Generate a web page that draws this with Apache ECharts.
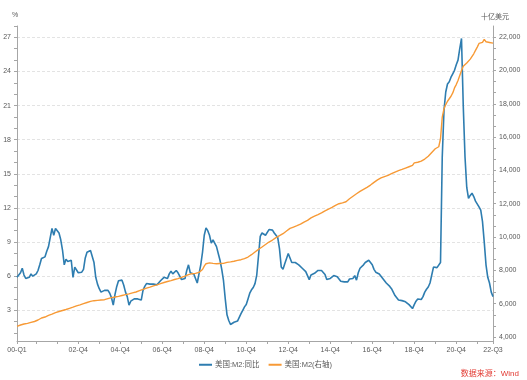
<!DOCTYPE html>
<html><head><meta charset="utf-8">
<script src="https://cdn.jsdelivr.net/npm/echarts@6/dist/echarts.min.js"></script>
<style>html,body{margin:0;padding:0;background:#fff}#c{width:527px;height:380px}</style>
</head><body><div id="c"></div>
<script>
// Monthly observations, 2000-01 .. 2022-09
const startYear = 2000, endYear = 2022, endMonth = 9;
const tickLabels = ["00-Q1","02-Q4","04-Q4","06-Q4","08-Q4","10-Q4","12-Q4","14-Q4","16-Q4","18-Q4","20-Q4","22-Q3"];
const leftTickLabels = [3,6,9,12,15,18,21,24,27];
const rightTickLabels = [4000,6000,8000,10000,12000,14000,16000,18000,20000,22000];
const seriesNames = ["美国:M2:同比", "美国:M2(右轴)"];

// 美国:M2:同比 (%)
const m2Yoy = [
 5.9,6.0,6.3,6.7,6.1,5.8,5.7,5.9,6.2,6.0,5.9,6.2,
 6.5,7.0,7.55,7.6,7.7,8.2,8.6,8.7,10.2,9.6,10.2,10.3,
 9.8,9.2,8.3,7.0,7.5,7.3,7.4,7.4,5.9,6.8,6.8,6.3,
 6.3,6.35,6.6,7.6,8.1,8.2,8.25,8.25,7.2,5.9,5.3,4.9,
 4.6,4.6,4.75,4.75,4.75,4.5,4.1,3.45,4.4,5.1,5.6,5.65,
 5.65,5.2,4.6,4.2,3.45,3.8,3.95,4.0,4.0,4.0,4.0,3.9,
 4.75,5.1,5.35,5.4,5.3,5.25,5.3,5.3,5.25,5.4,5.6,5.75,
 5.9,5.85,5.8,6.2,6.45,6.2,6.3,6.5,6.3,6.0,5.7,5.7,
 5.8,6.5,7.0,6.3,6.2,6.2,5.8,5.4,6.2,7.0,8.1,9.6,
 10.25,10.0,9.6,8.9,9.2,9.1,8.6,8.0,7.4,6.6,5.6,4.0,
 2.6,2.1,1.75,1.85,1.95,2.0,2.05,2.1,2.7,3.0,3.3,3.5,
 4.0,4.5,4.8,5.0,5.35,6.1,7.8,9.5,9.8,9.7,9.6,9.75,
 10.1,10.2,10.05,9.8,9.7,9.4,8.4,6.8,6.6,7.1,7.2,8.0,
 7.6,7.2,7.1,7.2,7.1,7.0,6.9,6.7,6.6,6.4,6.5,5.7,
 6.1,6.25,6.25,6.3,6.5,6.5,6.5,6.4,6.15,5.7,5.75,5.8,
 5.8,6.05,6.1,5.95,5.75,5.55,5.45,5.5,5.65,5.5,5.75,5.6,
 5.8,6.05,5.65,6.3,6.7,6.85,7.0,7.2,7.3,7.4,7.3,7.0,
 6.6,6.35,6.3,6.2,6.0,5.8,5.6,5.4,5.3,5.1,4.9,4.6,
 4.3,4.1,3.9,3.75,3.85,3.95,3.75,3.6,3.5,3.35,3.15,3.5,
 3.8,4.0,3.85,3.95,4.2,4.6,4.85,5.05,5.4,6.1,6.8,6.7,
 6.75,6.8,7.2,16.5,20.6,22.2,22.9,23.1,23.5,23.8,24.1,24.6,
 25.0,26.0,26.9,21.0,16.5,13.8,12.85,13.1,13.3,13.0,12.6,12.45,
 12.1,11.8,10.8,9.0,7.0,5.9,5.4,4.6,4.2
];

// 美国:M2 (十亿美元, 右轴)
const m2Level = [
 4642,4680,4720,4762,4780,4800,4820,4850,4880,4900,4930,4970,
 5020,5070,5140,5180,5200,5230,5300,5330,5370,5420,5460,5500,
 5530,5560,5590,5620,5650,5690,5720,5760,5790,5830,5870,5900,
 5930,5970,6000,6040,6070,6100,6140,6170,6180,6190,6200,6210,
 6220,6230,6240,6270,6300,6330,6360,6390,6400,6420,6440,6460,
 6490,6520,6540,6560,6590,6620,6650,6680,6700,6740,6780,6800,
 6860,6900,6930,6960,6990,7030,7070,7100,7130,7170,7200,7230,
 7270,7300,7330,7350,7380,7420,7450,7470,7500,7540,7580,7620,
 7650,7690,7740,7780,7800,7810,7820,7840,7880,7950,8050,8250,
 8400,8430,8450,8440,8420,8410,8400,8400,8410,8400,8420,8450,
 8480,8500,8510,8530,8550,8580,8600,8620,8640,8670,8700,8730,
 8800,8870,8940,9040,9100,9180,9260,9330,9400,9480,9550,9620,
 9700,9760,9820,9880,9960,10020,10080,10140,10200,10280,10360,10440,
 10520,10560,10600,10640,10680,10720,10770,10820,10900,10950,11000,11070,
 11150,11200,11260,11300,11350,11400,11450,11520,11570,11620,11680,11730,
 11780,11840,11900,11950,12000,12020,12050,12080,12120,12200,12300,12380,
 12450,12530,12600,12680,12740,12800,12860,12920,12980,13050,13120,13200,
 13280,13350,13430,13500,13550,13590,13630,13660,13700,13750,13800,13860,
 13900,13940,13990,14020,14060,14100,14140,14180,14220,14260,14300,14450,
 14470,14490,14520,14560,14600,14680,14760,14850,14950,15080,15200,15300,
 15380,15420,15900,17200,17700,17950,18150,18250,18450,18650,18950,19150,
 19400,19700,20000,20250,20350,20450,20550,20680,20800,21000,21200,21400,
 21620,21660,21680,21860,21720,21660,21680,21660,21640
];

const months = [];
for (let y = startYear; y <= endYear; y++) {
  for (let m = 1; m <= 12; m++) {
    if (y === endYear && m > endMonth) break;
    months.push(y + '-' + (m < 10 ? '0' + m : '' + m));
  }
}
const lastIdx = months.length - 1;
function toQ(v) {
  const yy = v.slice(2, 4), m = +v.slice(5, 7);
  return yy + '-Q' + Math.ceil(m / 3);
}
function isTick(idx, v) {
  return idx === 0 || idx === lastIdx || v.slice(5, 7) === '12';
}
function isLabel(idx, v) {
  return isTick(idx, v) && tickLabels.indexOf(toQ(v)) >= 0;
}

const leftMin = 0.3, leftMax = 28, rightMin = 3760, rightMax = 22667;
const leftMinor = [];
for (let k = 1; k <= 28; k++) leftMinor.push(k);
const rightMinor = [];
for (let k = 0; k <= 27; k++) rightMinor.push(4000 + k * 2000 / 3);

const FONT = '"Liberation Sans", "Noto Sans CJK SC", sans-serif';
const axisColor = '#a6a6a6';
const labelColor = '#595959';

const chart = echarts.init(document.getElementById('c'), null, {renderer: 'canvas'});
chart.setOption({
  animation: false,
  backgroundColor: '#fff',
  textStyle: {fontFamily: FONT},
  grid: {left: 17, right: 34, top: 26, bottom: 39, containLabel: false, outerBoundsMode: 'none'},
  legend: {
    data: seriesNames,
    left: 194, top: 356,
    itemWidth: 13, itemHeight: 2, itemGap: 9,
    icon: 'rect',
    textStyle: {fontSize: 7.5, color: labelColor, fontFamily: FONT, padding: [0, 0, 0, -2]}
  },
  xAxis: {
    type: 'category',
    data: months,
    boundaryGap: false,
    axisLine: {lineStyle: {color: axisColor, width: 1}},
    axisTick: {show: true, interval: isTick, length: 3, lineStyle: {color: axisColor}},
    axisLabel: {interval: isLabel, formatter: v => toQ(v), fontSize: 7, color: labelColor, margin: 6, fontFamily: FONT},
    splitLine: {show: false}
  },
  yAxis: [
    {
      type: 'value', position: 'left', min: leftMin, max: leftMax,
      axisLine: {show: true, lineStyle: {color: axisColor}},
      axisTick: {show: true, customValues: leftMinor, length: 3, lineStyle: {color: axisColor}},
      axisLabel: {customValues: leftTickLabels, fontSize: 7, color: labelColor, margin: 6, fontFamily: FONT},
      splitLine: {show: false}
    },
    {
      type: 'value', position: 'right', min: rightMin, max: rightMax,
      axisLine: {show: true, lineStyle: {color: axisColor}},
      axisTick: {show: true, customValues: rightMinor, length: 3, lineStyle: {color: axisColor}},
      axisLabel: {customValues: rightTickLabels, fontSize: 7, color: labelColor, margin: 6, fontFamily: FONT,
        formatter: v => Math.round(v).toLocaleString('en-US')},
      splitLine: {show: false}
    },
    {
      type: 'value', position: 'left', min: leftMin, max: leftMax,
      axisLine: {show: false},
      axisTick: {show: false, customValues: leftTickLabels},
      axisLabel: {show: false},
      splitLine: {show: true, lineStyle: {color: '#e3e3e3', type: [3, 2], width: 1}}
    }
  ],
  graphic: [
    {type: 'text', left: 12, top: 12, style: {text: '%', fontSize: 7, fill: labelColor, fontFamily: FONT}},
    {type: 'text', left: 481, top: 14, style: {text: '十亿美元', fontSize: 7, fill: labelColor, fontFamily: FONT}},
    {type: 'text', right: 8, top: 370, style: {text: '数据来源：Wind', fontSize: 8, fill: '#e23a32', fontFamily: FONT}}
  ],
  series: [
    {
      name: seriesNames[0], type: 'line', yAxisIndex: 0, data: m2Yoy,
      showSymbol: false, symbol: 'none',
      lineStyle: {color: '#2e7db0', width: 1.6},
      itemStyle: {color: '#2e7db0'}
    },
    {
      name: seriesNames[1], type: 'line', yAxisIndex: 1, data: m2Level,
      showSymbol: false, symbol: 'none',
      lineStyle: {color: '#f79a36', width: 1.4},
      itemStyle: {color: '#f79a36'}
    }
  ]
});
</script>
</body></html>
